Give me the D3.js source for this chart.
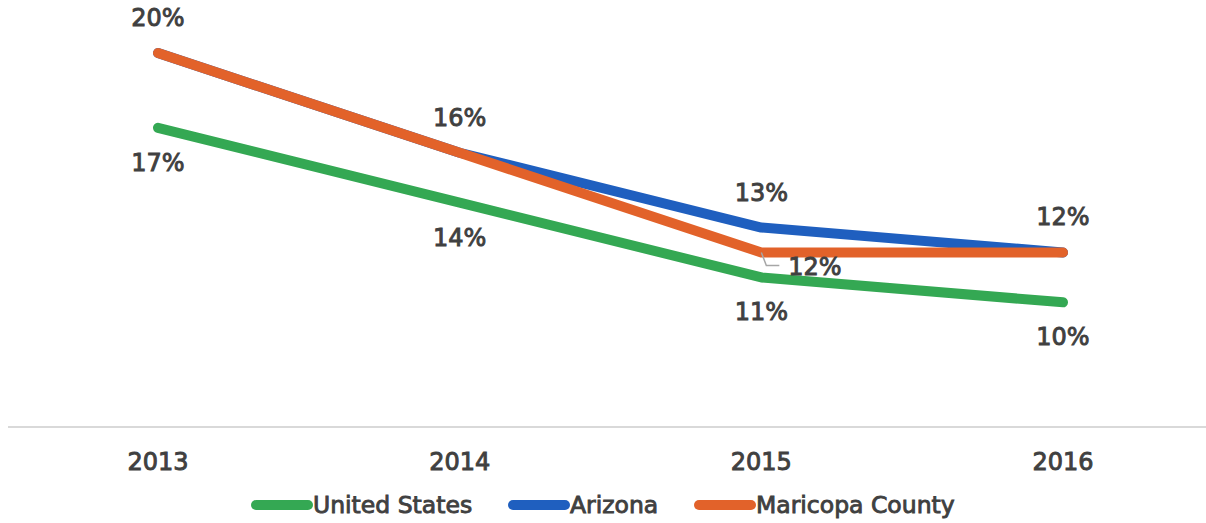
<!DOCTYPE html>
<html>
<head>
<meta charset="utf-8">
<script src="https://cdn.jsdelivr.net/npm/d3@7"></script>
<style>
  body { margin: 0; background: #fff; }
  svg { display: block; font-family: "DejaVu Sans", sans-serif; }
  svg text { stroke: #404040; stroke-width: 0.9px; }
</style>
</head>
<body>
<svg width="1206" height="523"></svg>
<script>
// Data
var years = ["2013", "2014", "2015", "2016"];
var unitedStates = [0.17, 0.14, 0.11, 0.10];
var arizona = [0.20, 0.16, 0.13, 0.12];
var maricopa = [0.20, 0.16, 0.12, 0.12];

var seriesNames = ["United States", "Arizona", "Maricopa County"];
var colors = ["#34a853", "#1f5fbf", "#e2622a"];

var series = [
  {name: seriesNames[0], values: unitedStates, color: colors[0]},
  {name: seriesNames[1], values: arizona, color: colors[1]},
  {name: seriesNames[2], values: maricopa, color: colors[2]}
];

// label placement per series / point: "above", "below", "right", or null
var labelPos = [
  ["below", "below", "below", "below"],
  ["above", "above", "above", "above"],
  [null, null, "right", null]
];

var svg = d3.select("svg");
var textColor = "#404040";

var x = d3.scalePoint()
    .domain(years)
    .range([158, 1063]);

var y = d3.scaleLinear()
    .domain([0.05, 0.20])
    .range([427, 53]);

// Baseline axis
svg.append("line")
    .attr("x1", 8).attr("x2", 1206)
    .attr("y1", y(0.05)).attr("y2", y(0.05))
    .attr("stroke", "#d9d9d9")
    .attr("stroke-width", 2);

// Category labels
svg.selectAll(".year")
    .data(years)
  .enter().append("text")
    .attr("class", "year")
    .attr("x", function(d) { return x(d); })
    .attr("y", 470)
    .attr("text-anchor", "middle")
    .attr("fill", textColor)
    .attr("font-size", "24px")
    .text(function(d) { return d; });

// Lines
var line = d3.line()
    .x(function(d, i) { return x(years[i]); })
    .y(function(d) { return y(d); });

svg.selectAll(".series")
    .data(series)
  .enter().append("path")
    .attr("class", "series")
    .attr("d", function(d) { return line(d.values); })
    .attr("fill", "none")
    .attr("stroke", function(d) { return d.color; })
    .attr("stroke-width", 10)
    .attr("stroke-linecap", "round")
    .attr("stroke-linejoin", "round");

// Data labels
var fmt = d3.format(".0%");
series.forEach(function(s, si) {
  s.values.forEach(function(v, i) {
    var pos = labelPos[si][i];
    if (!pos) return;
    var px = x(years[i]), py = y(v);
    var t = svg.append("text")
        .attr("fill", textColor)
        .attr("font-size", "24px")
        .attr("dominant-baseline", "central")
        .text(fmt(v));
    if (pos === "above") {
      t.attr("x", px).attr("y", py - 35).attr("text-anchor", "middle");
    } else if (pos === "below") {
      t.attr("x", px).attr("y", py + 35).attr("text-anchor", "middle");
    } else {
      t.attr("x", px + 27).attr("y", py + 15).attr("text-anchor", "start");
      svg.append("path")
          .attr("d", "M" + px + "," + py + "L" + (px + 5) + "," + (py + 13) + "L" + (px + 18) + "," + (py + 13))
          .attr("fill", "none")
          .attr("stroke", "#a6a6a6")
          .attr("stroke-width", 1.5);
    }
  });
});

// Legend
var legendItems = [
  {name: seriesNames[0], color: colors[0], x: 256},
  {name: seriesNames[1], color: colors[1], x: 513},
  {name: seriesNames[2], color: colors[2], x: 699}
];
var legend = svg.selectAll(".legend")
    .data(legendItems)
  .enter().append("g")
    .attr("class", "legend")
    .attr("transform", function(d) { return "translate(" + d.x + ",505)"; });

legend.append("line")
    .attr("x1", 0).attr("x2", 52)
    .attr("stroke", function(d) { return d.color; })
    .attr("stroke-width", 10)
    .attr("stroke-linecap", "round");

legend.append("text")
    .attr("x", 57)
    .attr("dominant-baseline", "central")
    .attr("fill", textColor)
    .attr("font-size", "23.5px")
    .text(function(d) { return d.name; });
</script>
</body>
</html>
